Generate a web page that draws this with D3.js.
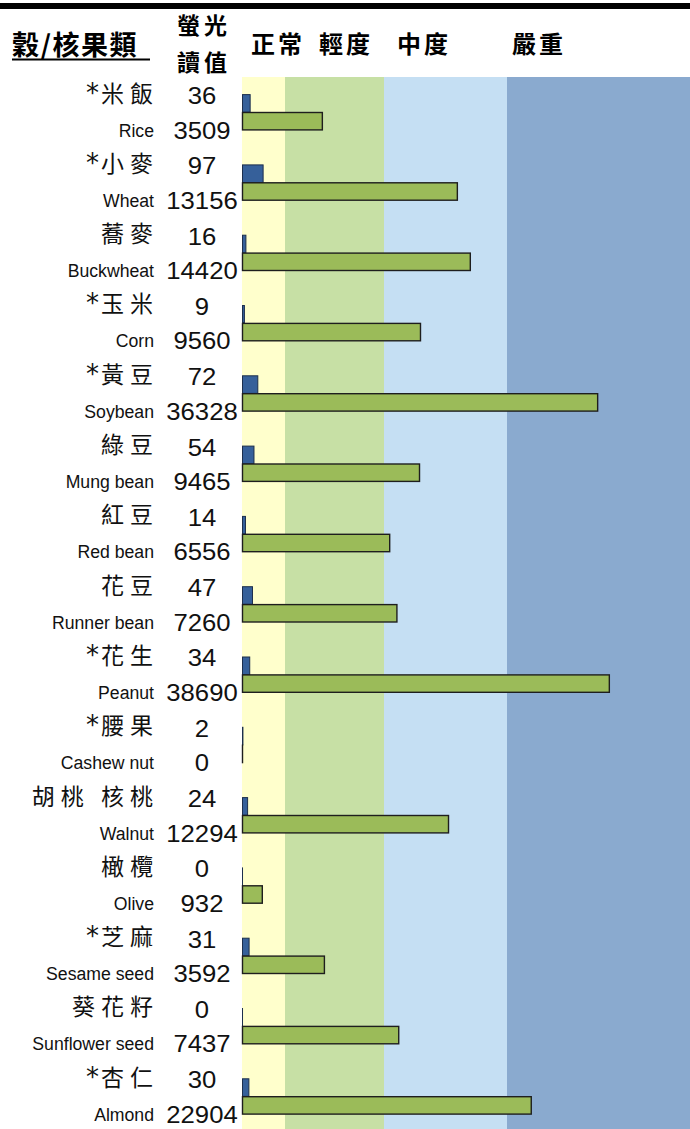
<!DOCTYPE html>
<html>
<head>
<meta charset="utf-8">
<script src="https://cdn.jsdelivr.net/npm/d3@7"></script>
<style>
  html, body { margin: 0; padding: 0; background: #fff; }
  svg { display: block; }
</style>
</head>
<body>
<svg id="chart" width="690" height="1129"></svg>
<script>
const namesZh = ["*米飯","*小麥","蕎麥","*玉米","*黃豆","綠豆","紅豆","花豆","*花生","*腰果","胡桃 核桃","橄欖","*芝麻","葵花籽","*杏仁"];
const namesEn = ["Rice","Wheat","Buckwheat","Corn","Soybean","Mung bean","Red bean","Runner bean","Peanut","Cashew nut","Walnut","Olive","Sesame seed","Sunflower seed","Almond"];
const valuesTop = [36,97,16,9,72,54,14,47,34,2,24,0,31,0,30];
const valuesBottom = [3509,13156,14420,9560,36328,9465,6556,7260,38690,0,12294,932,3592,7437,22904];
const bandLabels = ["正常","輕度","中度","嚴重"];
const bandThresholds = [0,2000,6000,18000,55000];
const topThresholds = [0,200];
const headerTitle = "穀/核果類";
const headerValue = ["螢光","讀值"];

const bandColors = ["#FFFFCC","#C7E0A5","#C5DFF3","#8AAACF"];
const svg = d3.select("#chart");
const W = 690, H = 1129;
const top0 = 77, rowStep = 70.3;

const x = d3.scaleLinear().domain(bandThresholds).range([242.5, 285, 384, 507, 690]);
const xTop = d3.scaleLinear().domain(topThresholds).range([242.5, 285]);
const y = d3.scaleBand().domain(d3.range(namesZh.length))
  .range([top0, top0 + rowStep * namesZh.length]).paddingInner(0).paddingOuter(0);

// top thick rule
svg.append("rect").attr("x", 0).attr("y", 3).attr("width", W).attr("height", 6).attr("fill", "#000");

// background bands
const bands = d3.range(bandLabels.length).map(i => ({ a: bandThresholds[i], b: bandThresholds[i+1], c: bandColors[i] }));
svg.selectAll("rect.band").data(bands).join("rect")
  .attr("class", "band")
  .attr("x", (d, i) => i === 0 ? 242 : x(d.a))
  .attr("width", (d, i) => x(d.b) - (i === 0 ? 242 : x(d.a)))
  .attr("y", top0).attr("height", H - top0)
  .attr("fill", d => d.c);

// header
const cjk = "'Noto Sans CJK TC','Noto Sans CJK SC',sans-serif";
svg.append("text").attr("x", 12).attr("y", 54.5)
  .attr("font-family", cjk).attr("font-weight", 700).attr("font-size", 27)
  .attr("letter-spacing", 1.5).attr("fill", "#000").text(headerTitle);
svg.append("line").attr("x1", 12).attr("x2", 150).attr("y1", 59.5).attr("y2", 59.5)
  .attr("stroke", "#000").attr("stroke-width", 2);
svg.selectAll("text.hv").data(headerValue).join("text").attr("class", "hv")
  .attr("x", 204).attr("y", (d, i) => 34 + i * 37)
  .attr("text-anchor", "middle")
  .attr("font-family", cjk).attr("font-weight", 700).attr("font-size", 23)
  .attr("letter-spacing", 4).text(d => d);
const bandLabelX = [251, 319, 397, 512];
svg.selectAll("text.bl").data(bandLabels).join("text").attr("class", "bl")
  .attr("x", (d, i) => bandLabelX[i]).attr("y", 53)
  .attr("font-family", cjk).attr("font-weight", 700).attr("font-size", 24)
  .attr("letter-spacing", 3).text(d => d);

// rows
const rows = svg.selectAll("g.row").data(namesZh.map((n, i) => ({
  i, zh: n, en: namesEn[i], t: valuesTop[i], b: valuesBottom[i]
}))).join("g").attr("class", "row")
  .attr("transform", d => `translate(0,${y(d.i)})`);

const zhText = rows.append("text")
  .attr("x", 159).attr("y", 24.5)
  .attr("text-anchor", "end")
  .attr("font-family", cjk).attr("font-size", 23).attr("letter-spacing", 6)
  .attr("fill", "#111");
zhText.each(function(d) {
  const t = d3.select(this);
  if (d.zh.startsWith("*")) {
    t.append("tspan").attr("font-family", "'DejaVu Sans',sans-serif").attr("font-size", 26)
      .attr("letter-spacing", 2).text("*");
    t.append("tspan").text(d.zh.slice(1));
  } else {
    t.text(d.zh);
  }
});

rows.append("text")
  .attr("transform", "translate(154,59.5) scale(0.93,1)")
  .attr("text-anchor", "end")
  .attr("font-family", "'Liberation Sans',Arial,sans-serif").attr("font-size", 19)
  .attr("fill", "#111").text(d => d.en);

rows.append("text")
  .attr("transform", "translate(202,27) scale(1.07,1)")
  .attr("text-anchor", "middle")
  .attr("font-family", "'Liberation Sans',Arial,sans-serif").attr("font-size", 24)
  .attr("fill", "#111").text(d => d.t);

rows.append("text")
  .attr("transform", "translate(202,61.5) scale(1.07,1)")
  .attr("text-anchor", "middle")
  .attr("font-family", "'Liberation Sans',Arial,sans-serif").attr("font-size", 24)
  .attr("fill", "#111").text(d => d.b);

// bars (tiny minimum width so zero values still show their outline, as in the original)
rows.append("rect")
  .attr("x", xTop(0)).attr("y", 17.6)
  .attr("width", d => Math.max(xTop(d.t) - xTop(0), 0.01)).attr("height", 17.6)
  .attr("fill", "#36609A").attr("stroke", "#1d2f4d").attr("stroke-width", 1);

rows.append("rect")
  .attr("x", x(0)).attr("y", 35.5)
  .attr("width", d => Math.max(x(d.b) - x(0), 0.01)).attr("height", 17.4)
  .attr("fill", "#9BBB59").attr("stroke", "#1e1e1e").attr("stroke-width", 1.4);
</script>
</body>
</html>
